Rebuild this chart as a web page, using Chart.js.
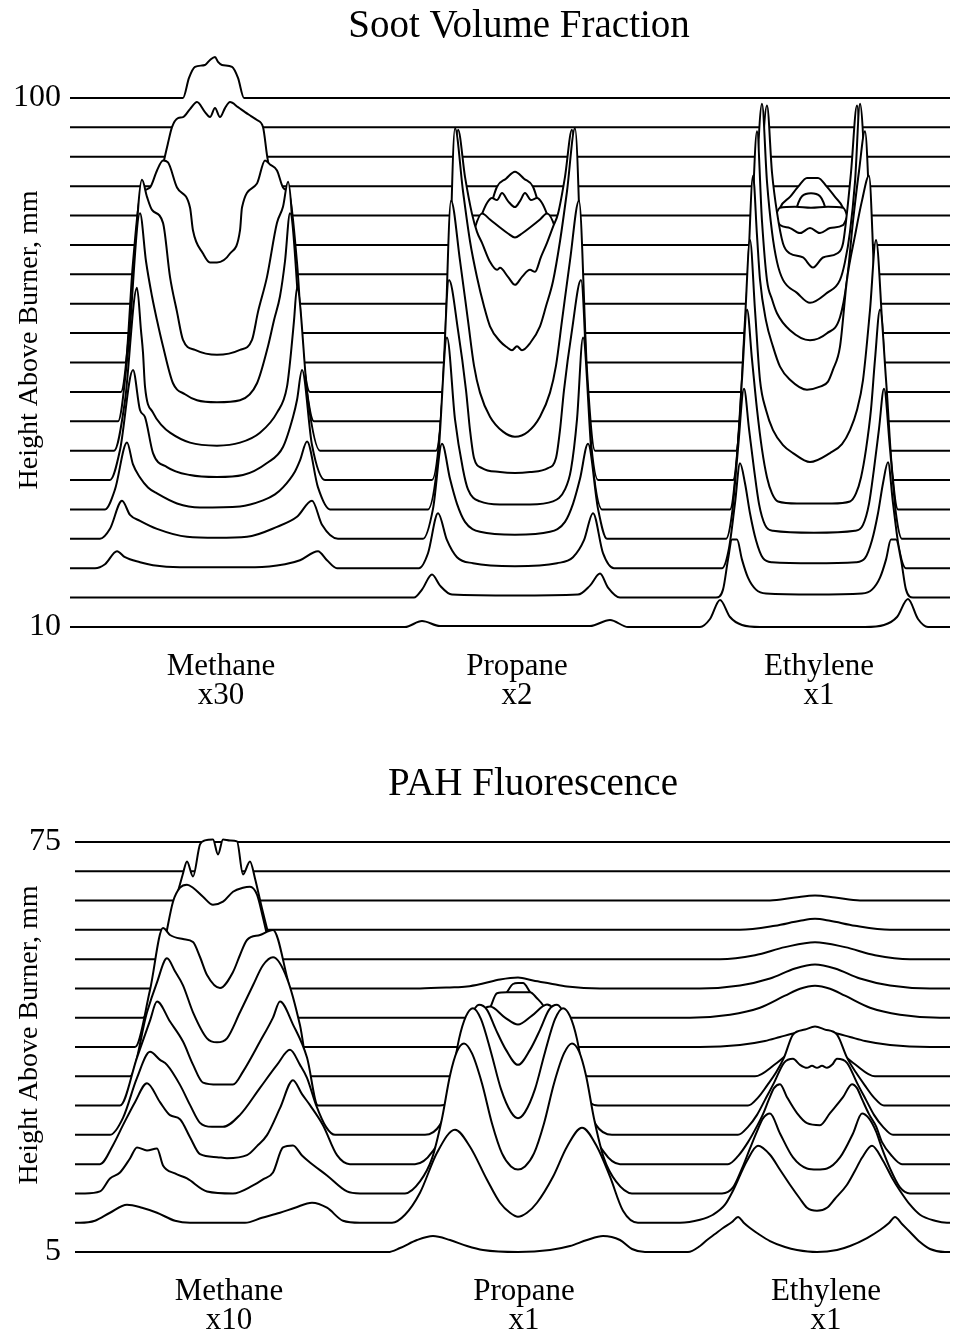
<!DOCTYPE html>
<html>
<head>
<meta charset="utf-8">
<script src="https://cdn.jsdelivr.net/npm/chart.js@4.4.1/dist/chart.umd.min.js"></script>
<style>
  html, body { margin: 0; padding: 0; background: #fff; }
  canvas { display: block; }
</style>
</head>
<body>
<canvas id="sootChart" width="953" height="727"></canvas>
<canvas id="pahChart" width="953" height="607"></canvas>
<script>
// Radial scans stacked by height above the burner. Each profile is a list of
// [x, signal] pairs; signal is in plot units and rides on the trace's height.
const SOOT_X = [70, 950];
const PAH_X = [75, 950];

const SOOT_HEIGHTS = [10, 15, 20, 25, 30, 35, 40, 45, 50, 55, 60, 65, 70, 75, 80, 85, 90, 95, 100];
const SOOT_TICKS = [10, 100];
const SOOT_LABEL_X = [221, 517, 819];
const SOOT_LABELS = [['Methane', 'x30'], ['Propane', 'x2'], ['Ethylene', 'x1']];

const SOOT_METHANE = [
  [],
  [],
  [[95,0],[105,4],[117,17],[125,11],[140,6],[153,3],[180,1],[255,1],[285,4],[300,8],[318,17],[327,8],[337,0]],
  [[100,0],[110,10],[122,38],[130,24],[140,18],[157,10],[187,2],[217,1],[247,2],[277,12],[297,22],[312,38],[322,14],[338,0]],
  [[105,0],[115,20],[127,67],[133,45],[140,32],[148,22],[157,16],[177,6],[200,2],[240,3],[263,9],[275,15],[283,22],[295,38],[300,49],[307,68],[318,22],[330,0]],
  [[110,0],[120,30],[133,110],[140,70],[145,63],[153,27],[167,13],[190,5],[217,3],[243,5],[267,17],[283,33],[293,63],[297,80],[302,110],[312,35],[325,0]],
  [[114,0],[125,50],[137,163],[141,120],[143,98],[145,64],[153,38],[162,25],[170,18],[190,8],[217,5],[240,8],[260,18],[277,38],[287,64],[291,98],[294,130],[297,163],[308,50],[320,0]],
  [[118,0],[128,70],[140,208],[146,160],[152,125],[157,101],[163,75],[173,38],[185,27],[197,21],[217,19],[240,21],[257,38],[268,75],[274,101],[280,125],[285,160],[290,208],[302,70],[314,0]],
  [[121,0],[131,80],[142,212],[147,195],[152,182],[163,169],[170,115],[177,80],[183,52],[195,42],[217,37],[240,42],[252,52],[258,80],[267,115],[277,169],[283,185],[288,210],[298,80],[310,0]],
  [[125,0],[133,100],[140,165],[150,175],[157,192],[163,202],[168,200],[177,175],[190,155],[193,132],[203,109],[210,100],[217,100],[230,109],[240,132],[242,155],[257,179],[265,202],[270,198],[277,192],[283,175],[290,165],[297,100],[305,0]],
  [[140,0],[152,110],[163,168],[168,190],[172,206],[178,215],[183,216],[190,224],[197,231],[205,221],[210,216],[215,225],[220,216],[225,225],[230,231],[238,226],[245,221],[251,217],[257,213],[263,206],[267,178],[275,130],[290,0]],
  [], [], [], [], [], [], [],
  [[183,0],[189,20],[195,31],[205,33],[210,38],[215,41],[218,36],[222,33],[232,31],[238,20],[244,0]]
];

const SOOT_PROPANE = [
  [[405,0],[422,6],[440,1],[590,1],[610,7],[628,0]],
  [[414,0],[422,8],[432,23],[440,12],[452,3],[515,2],[578,3],[590,12],[600,24],[608,10],[620,0]],
  [[419,0],[428,15],[438,55],[447,28],[457,11],[473,5],[515,2],[557,5],[573,11],[584,28],[593,55],[603,15],[614,0]],
  [[423,0],[433,30],[442,95],[450,60],[457,35],[465,17],[480,7],[515,4],[550,7],[565,17],[573,35],[580,60],[588,95],[598,30],[607,0]],
  [[428,0],[438,50],[447,172],[455,90],[463,40],[468,20],[480,8],[500,5],[530,5],[553,8],[565,20],[571,40],[577,90],[583,172],[592,50],[602,0]],
  [[432,0],[441,60],[449,200],[458,150],[466,90],[470,50],[474,22],[482,12],[500,8],[515,7],[530,8],[548,12],[556,22],[560,50],[564,90],[572,150],[581,200],[589,60],[598,0]],
  [[436,0],[444,80],[451,250],[460,190],[468,130],[474,85],[480,58],[490,34],[503,19],[515,14],[528,19],[540,34],[550,58],[556,85],[562,130],[570,190],[579,250],[587,80],[595,0]],
  [[440,0],[448,100],[455,293],[463,230],[470,180],[477,144],[484,115],[490,95],[500,80],[507,74],[512,71],[517,75],[522,71],[530,78],[540,95],[546,115],[553,140],[560,180],[567,230],[575,293],[583,100],[590,0]],
  [[444,0],[451,110],[458,262],[465,215],[472,178],[477,160],[482,149],[490,130],[497,122],[500,124],[508,115],[515,107],[522,115],[530,122],[535,120],[541,135],[547,149],[553,165],[558,178],[565,215],[572,262],[579,110],[586,0]],
  [[455,0],[465,90],[475,135],[482,149],[490,143],[500,135],[508,129],[515,125],[522,129],[530,135],[540,143],[547,149],[555,135],[565,90],[575,0]],
  [[455,0],[465,55],[472,90],[482,119],[487,130],[492,135],[497,133],[502,140],[508,132],[515,126],[520,132],[525,140],[531,133],[537,135],[542,130],[547,119],[557,90],[565,55],[575,0]],
  [[465,0],[480,60],[490,95],[497,117],[506,125],[515,132],[524,125],[533,117],[540,95],[550,60],[565,0]],
  [], [], [], [], [], [], []
];

const SOOT_ETHYLENE = [
  [[700,0],[710,8],[720,27],[730,10],[742,2],[760,0],[865,0],[884,2],[897,10],[908,28],[918,8],[928,0]],
  [[716,0],[723,8],[728,38],[732,58],[737,58],[742,38],[748,20],[756,8],[766,4],[814,3],[862,4],[872,8],[880,20],[886,38],[891,58],[896,58],[901,38],[906,8],[913,0]],
  [[722,0],[729,20],[735,65],[740,105],[745,85],[750,55],[756,28],[763,10],[772,6],[814,5],[856,6],[865,10],[872,28],[878,55],[883,85],[888,106],[893,65],[899,20],[906,0]],
  [[726,0],[732,25],[738,90],[744,150],[749,110],[754,70],[759,35],[765,14],[773,8],[814,6],[855,8],[863,14],[869,35],[874,70],[879,110],[884,150],[890,90],[896,25],[902,0]],
  [[730,0],[736,40],[742,130],[747,200],[752,150],[757,100],[762,60],[767,32],[772,16],[778,8],[797,6],[814,6],[832,6],[850,8],[856,16],[861,32],[866,60],[871,100],[875,150],[880,200],[886,130],[892,40],[898,0]],
  [[733,0],[739,50],[745,160],[750,240],[755,170],[760,100],[766,70],[773,50],[783,35],[793,27],[810,18],[830,27],[842,36],[850,50],[857,70],[863,100],[870,170],[876,240],[882,160],[888,50],[894,0]],
  [[736,0],[742,60],[748,180],[753,275],[757,215],[760,171],[766,130],[773,104],[780,84],[790,71],[807,61],[820,64],[828,69],[833,81],[840,104],[847,171],[855,215],[862,250],[869,275],[874,180],[880,60],[886,0]],
  [[740,0],[746,70],[752,200],[757,290],[762,200],[767,141],[772,122],[777,108],[790,91],[810,81],[827,88],[840,104],[847,141],[853,200],[859,250],[865,290],[870,200],[876,70],[882,0]],
  [[744,0],[750,70],[756,200],[762,288],[767,210],[772,160],[777,130],[783,112],[797,99],[810,89],[827,99],[840,112],[845,130],[850,160],[855,210],[860,288],[866,200],[872,70],[878,0]],
  [[748,0],[754,60],[760,170],[767,257],[772,190],[777,150],[783,119],[790,109],[803,105],[813,95],[823,105],[837,109],[843,119],[847,150],[851,190],[857,257],[862,170],[868,60],[874,0]],
  [[755,0],[765,60],[772,120],[780,108],[790,105],[800,100],[810,105],[820,100],[830,105],[843,108],[850,120],[857,60],[867,0]],
  [[760,0],[768,50],[775,85],[780,96],[795,97],[811,96],[828,97],[843,96],[848,85],[855,50],[863,0]],
  [[785,0],[795,60],[802,78],[811,81],[820,78],[827,60],[837,0]],
  [[770,0],[780,37],[790,48],[798,58],[807,67],[818,67],[827,58],[835,48],[843,37],[853,0]],
  [], [], [], [], []
];

const PAH_HEIGHTS = [5, 10, 15, 20, 25, 30, 35, 40, 45, 50, 55, 60, 65, 70, 75];
const PAH_TICKS = [5, 75];
const PAH_LABEL_X = [229, 524, 826];
const PAH_LABELS = [['Methane', 'x10'], ['Propane', 'x1'], ['Ethylene', 'x1']];

const PAH_METHANE = [
  [],
  [[80,0],[95,2],[110,10],[127,18],[142,15],[157,10],[175,2],[190,0],[245,0],[262,5],[280,10],[295,15],[312,20],[327,15],[343,2],[360,0]],
  [[85,0],[100,2],[110,15],[120,21],[130,35],[137,46],[147,43],[157,45],[163,28],[175,20],[187,15],[207,2],[233,0],[253,8],[263,14],[273,21],[283,46],[293,48],[302,38],[310,31],[327,18],[347,2],[360,0]],
  [[100,0],[113,19],[123,39],[135,62],[147,81],[160,62],[170,49],[180,45],[190,27],[200,10],[217,7],[227,6],[247,9],[257,18],[267,29],[280,56],[293,84],[302,70],[310,59],[323,39],[337,9],[350,0]],
  [[110,0],[123,17],[137,57],[150,83],[160,75],[167,70],[180,50],[190,30],[200,12],[212,8],[223,8],[240,20],[260,47],[277,70],[290,85],[300,70],[307,57],[316,30],[326,8],[335,0]],
  [[120,0],[137,48],[150,85],[157,104],[170,84],[183,64],[193,41],[203,23],[218,21],[233,21],[243,34],[260,64],[273,88],[280,104],[293,81],[307,48],[318,0]],
  [[130,0],[147,64],[157,94],[167,118],[175,105],[183,91],[193,64],[207,38],[217,34],[227,38],[240,64],[253,91],[263,111],[273,119],[287,98],[300,51],[310,0]],
  [[135,0],[150,57],[163,119],[170,112],[183,108],[193,105],[200,90],[207,72],[220,59],[233,75],[240,92],[247,107],[260,112],[273,117],[287,70],[302,0]],
  [[143,0],[157,43],[165,78],[173,116],[180,130],[187,133],[193,130],[203,121],[213,113],[223,116],[233,126],[243,130],[250,131],[257,123],[263,100],[280,28],[293,0]],
  [[150,0],[165,40],[175,85],[183,115],[187,127],[193,112],[200,144],[205,148],[213,149],[218,134],[223,149],[230,148],[237,147],[243,114],[250,127],[255,110],[262,80],[275,30],[285,0]],
  [], [], [], [], []
];

const PAH_PROPANE = [
  [[388,0],[400,4],[417,12],[433,16],[450,12],[467,6],[483,2],[518,0],[550,2],[570,6],[587,12],[603,16],[620,12],[632,3],[645,0]],
  [[392,0],[405,8],[420,30],[437,70],[455,93],[470,76],[487,43],[500,20],[510,10],[518,6],[527,10],[537,20],[553,46],[567,76],[582,95],[597,76],[610,46],[623,12],[638,0]],
  [[405,0],[420,12],[432,35],[442,75],[450,118],[457,142],[464,150],[472,140],[482,110],[492,70],[502,40],[511,27],[518,24],[525,27],[534,40],[544,70],[554,110],[564,140],[572,150],[579,142],[586,118],[594,75],[604,35],[616,12],[632,0]],
  [[415,0],[432,12],[445,40],[452,85],[459,125],[466,148],[473,156],[481,145],[491,112],[501,75],[511,52],[518,46],[525,52],[535,75],[545,112],[555,145],[563,156],[570,148],[577,125],[584,85],[591,40],[604,12],[620,0]],
  [[425,0],[440,10],[452,40],[462,85],[471,118],[479,130],[487,125],[496,105],[506,85],[518,70],[530,85],[540,105],[549,125],[557,130],[565,118],[574,85],[584,40],[596,10],[612,0]],
  [[440,0],[458,15],[468,45],[477,80],[485,97],[490,99],[505,88],[518,81],[532,90],[547,101],[553,97],[561,80],[570,45],[580,15],[598,0]],
  [[450,0],[467,20],[480,45],[490,68],[497,83],[507,84],[518,84],[530,84],[537,78],[543,71],[555,45],[568,20],[588,0]],
  [[470,0],[490,30],[500,45],[507,55],[513,63],[518,64],[523,64],[530,55],[537,45],[550,25],[570,0]],
  [],
  [[420,0],[450,1],[467,2],[483,5],[500,9],[518,11],[533,8],[550,5],[567,2],[600,0]],
  [], [], [], [], []
];

const PAH_ETHYLENE = [
  [[688,0],[700,6],[707,12],[715,18],[723,24],[732,30],[738,35],[744,29],[750,24],[760,17],[770,11],[785,5],[797,2],[817,0],[837,2],[850,6],[867,14],[880,22],[889,29],[895,35],[902,28],[910,20],[920,10],[930,3],[945,0]],
  [[680,0],[700,3],[713,8],[725,18],[733,32],[747,62],[758,77],[770,68],[780,53],[790,38],[800,24],[807,15],[817,12],[827,15],[835,24],[847,38],[855,52],[862,65],[872,77],[883,62],[892,45],[900,32],[910,18],[920,8],[935,2],[947,0]],
  [[722,0],[733,6],[742,25],[750,45],[757,62],[763,75],[770,80],[780,60],[793,36],[807,25],[817,24],[827,25],[840,36],[853,60],[862,80],[869,75],[876,62],[882,45],[890,25],[900,6],[910,0]],
  [[728,0],[738,8],[748,22],[757,38],[763,50],[769,65],[774,76],[780,80],[787,67],[797,51],[807,41],[820,39],[830,51],[843,67],[852,80],[857,76],[862,65],[869,50],[876,38],[882,22],[892,8],[902,0]],
  [[738,0],[748,8],[757,20],[765,35],[774,52],[784,72],[793,76],[800,70],[807,67],[812,69],[817,67],[822,69],[827,67],[832,70],[837,76],[847,72],[857,52],[866,35],[874,20],[883,8],[893,0]],
  [[748,0],[758,8],[767,20],[776,33],[784,48],[793,71],[805,76],[815,79],[825,76],[837,71],[847,48],[856,33],[865,20],[874,8],[884,0]],
  [[755,0],[775,12],[795,28],[815,38],[835,28],[855,12],[875,0]],
  [[700,0],[740,2],[765,6],[780,10],[795,14],[815,18],[835,14],[850,10],[865,6],[890,2],[930,0]],
  [[690,0],[730,3],[760,10],[785,22],[800,29],[815,32],[830,29],[845,22],[870,10],[900,3],[940,0]],
  [[700,0],[740,3],[770,10],[795,20],[815,24],[835,20],[860,10],[890,3],[930,0]],
  [[720,0],[755,4],[785,12],[815,17],[845,12],[875,4],[910,0]],
  [[740,0],[775,4],[800,9],[815,11],[830,9],[855,4],[890,0]],
  [[770,0],[795,3],[815,5],[835,3],[860,0]],
  [], []
];

// plot-height units per signal unit in each panel
const SOOT_UNIT = 90 / 529;
const PAH_UNIT = 70 / 410;

const SERIF = "'Liberation Serif', 'DejaVu Serif', serif";

// one dataset per height; the lowest scan comes first so it is drawn last,
// and the white fill under each line hides what lies behind it
function buildTraces(heights, flames, unit, xRange) {
  return heights.map((h, i) => {
    const pts = [{x: xRange[0], y: h}];
    flames.forEach(f => f[i].forEach(([x, v]) => pts.push({x: x, y: h + v * unit})));
    pts.push({x: xRange[1], y: h});
    return {
      data: pts,
      borderColor: '#000',
      borderWidth: 2,
      pointRadius: 0,
      fill: 'start',
      backgroundColor: '#fff',
      cubicInterpolationMode: 'monotone',
      clip: false
    };
  });
}

const panelTitle = {
  id: 'panelTitle',
  afterDraw(chart, args, opts) {
    const ctx = chart.ctx;
    ctx.save();
    ctx.font = '39px ' + SERIF;
    ctx.fillStyle = '#000';
    ctx.textAlign = 'center';
    ctx.textBaseline = 'middle';
    ctx.fillText(opts.text, opts.x, opts.y);
    ctx.restore();
  }
};

function panelOptions(cfg) {
  return {
    responsive: false,
    animation: false,
    events: [],
    layout: {padding: {top: cfg.top, bottom: 0, right: 3, left: 0}},
    plugins: {
      legend: {display: false},
      tooltip: {enabled: false},
      filler: {drawTime: 'beforeDatasetDraw'},
      panelTitle: {text: cfg.title, x: cfg.titleX, y: cfg.titleY}
    },
    scales: {
      x: {
        type: 'linear',
        min: cfg.xRange[0],
        max: cfg.xRange[1],
        grid: {display: false, drawTicks: false},
        border: {display: false},
        afterBuildTicks: s => { s.ticks = cfg.labelX.map(v => ({value: v})); },
        afterFit: s => { s.height = cfg.axisH; },
        ticks: {
          autoSkip: false,
          maxRotation: 0,
          padding: 20,
          color: '#000',
          font: {family: SERIF, size: 31, lineHeight: 0.95},
          callback: (v, i) => cfg.labels[i]
        }
      },
      y: {
        type: 'linear',
        min: cfg.yMin,
        max: cfg.yMax,
        afterFit: s => { s.width = cfg.xRange[0]; },
        grid: {display: false, drawTicks: false},
        border: {display: false},
        afterBuildTicks: s => { s.ticks = cfg.yTicks.map(v => ({value: v})); },
        ticks: {padding: cfg.xRange[0] - 61, color: '#000', font: {family: SERIF, size: 32}},
        title: {
          display: true,
          text: 'Height Above Burner, mm',
          color: '#000',
          font: {family: SERIF, size: 28},
          padding: {top: 13, bottom: 0}
        }
      }
    }
  };
}

new Chart(document.getElementById('sootChart'), {
  type: 'line',
  data: {datasets: buildTraces(SOOT_HEIGHTS, [SOOT_METHANE, SOOT_PROPANE, SOOT_ETHYLENE], SOOT_UNIT, SOOT_X)},
  options: panelOptions({
    title: 'Soot Volume Fraction', titleX: 519, titleY: 27,
    top: 48, axisH: 95, yMin: 9.15, yMax: 108.5, xRange: SOOT_X,
    yTicks: SOOT_TICKS, labelX: SOOT_LABEL_X, labels: SOOT_LABELS
  }),
  plugins: [panelTitle]
});

new Chart(document.getElementById('pahChart'), {
  type: 'line',
  data: {datasets: buildTraces(PAH_HEIGHTS, [PAH_METHANE, PAH_PROPANE, PAH_ETHYLENE], PAH_UNIT, PAH_X)},
  options: panelOptions({
    title: 'PAH Fluorescence', titleX: 533, titleY: 58,
    top: 86, axisH: 77, yMin: 4.15, yMax: 79.95, xRange: PAH_X,
    yTicks: PAH_TICKS, labelX: PAH_LABEL_X, labels: PAH_LABELS
  }),
  plugins: [panelTitle]
});
</script>
</body>
</html>
